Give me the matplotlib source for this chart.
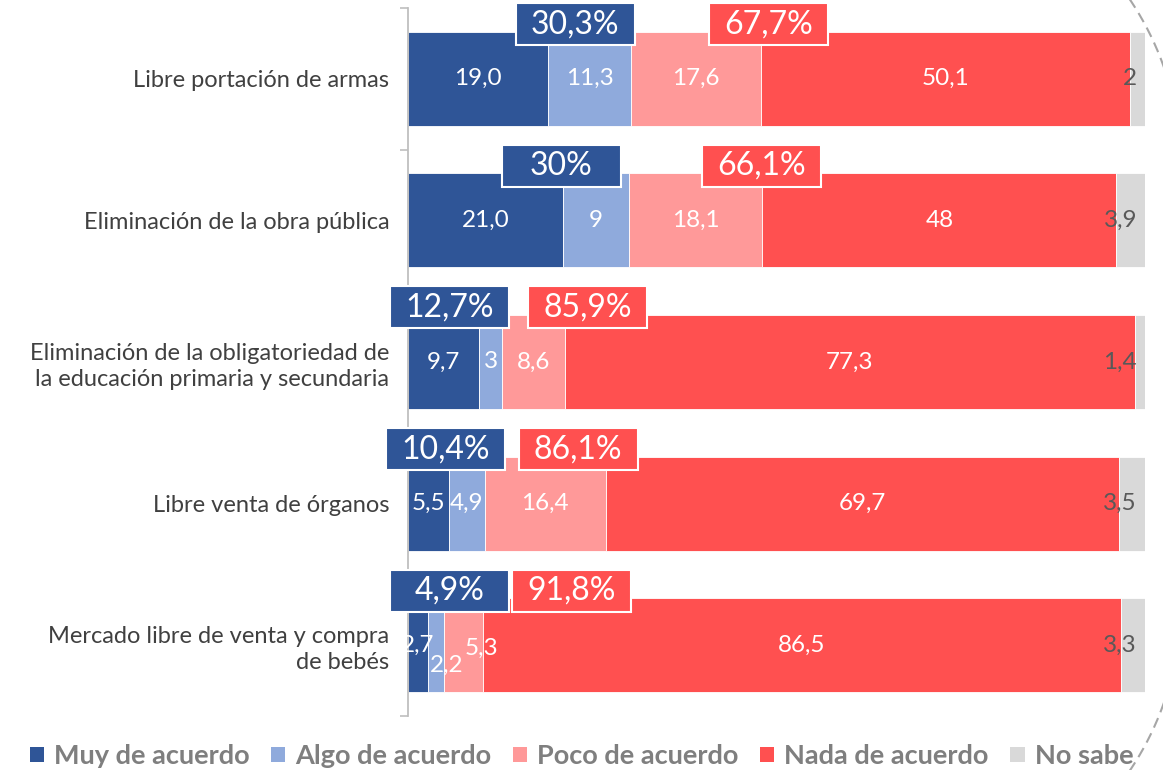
import matplotlib
matplotlib.use("Agg")
import matplotlib.pyplot as plt
from matplotlib.patches import Rectangle, Patch
from matplotlib.lines import Line2D
import numpy as np

plt.rcParams['font.family'] = ['Lato', 'DejaVu Sans']

# ---------------- data ----------------
categories = [
    "Libre portación de armas",
    "Eliminación de la obra pública",
    "Eliminación de la obligatoriedad de\nla educación primaria y secundaria",
    "Libre venta de órganos",
    "Mercado libre de venta y compra\nde bebés",
]
series_names = ["Muy de acuerdo", "Algo de acuerdo", "Poco de acuerdo",
                "Nada de acuerdo", "No sabe"]
muy_de_acuerdo = ["19,0", "21,0", "9,7", "5,5", "2,7"]
algo_de_acuerdo = ["11,3", "9", "3", "4,9", "2,2"]
poco_de_acuerdo = ["17,6", "18,1", "8,6", "16,4", "5,3"]
nada_de_acuerdo = ["50,1", "48", "77,3", "69,7", "86,5"]
no_sabe = ["2", "3,9", "1,4", "3,5", "3,3"]

# ---------------- style / layout ----------------
colors = ["#2F5597", "#8FAADC", "#FF9999", "#FF5050", "#D9D9D9"]
box_agree_x = [22.7, 20.8, 5.6, 5.1, 5.6]      # centre of summary boxes (layout)
box_disagree_x = [48.9, 48.0, 24.4, 23.1, 22.2]
label_offsets_px = {(4, 1): (11, 20), (4, 2): (18, 3)}

def num(s):
    return float(s.replace(",", "."))

def fmt(v):
    s = f"{v:.1f}"
    if s.endswith(".0"):
        s = s[:-2]
    return s.replace(".", ",")

series_str = [muy_de_acuerdo, algo_de_acuerdo, poco_de_acuerdo, nada_de_acuerdo, no_sabe]
series = [np.array([num(s) for s in ser]) for ser in series_str]

W, H = 1163, 770
fig = plt.figure(figsize=(W / 100, H / 100), dpi=100)
ax_left, ax_right, ax_top, ax_bottom = 408, 1145, 8, 716
ax = fig.add_axes([ax_left / W, 1 - ax_bottom / H, (ax_right - ax_left) / W,
                   (ax_bottom - ax_top) / H])
ax.set_xlim(0, 100)
ax.set_ylim(len(categories) - 0.5, -0.5)

px_x = 100 / (ax_right - ax_left)
px_y = len(categories) / (ax_bottom - ax_top)

y = np.arange(len(categories))
bar_h = 0.664
left = np.zeros(len(categories))
for k, (vals, strs, c) in enumerate(zip(series, series_str, colors)):
    ax.barh(y, vals, left=left, height=bar_h, color=c, edgecolor="white",
            linewidth=0.6, zorder=2)
    for i, (v, s) in enumerate(zip(vals, strs)):
        if k < 4:
            dx, dy = label_offsets_px.get((i, k), (0, 0))
            ax.text(left[i] + v / 2 + dx * px_x, y[i] + dy * px_y, s,
                    ha="center", va="center", color="white", fontsize=17.5,
                    zorder=4)
        else:
            ax.text(100 - 8 * px_x, y[i], s, ha="right", va="center",
                    color="#595959", fontsize=17.5, zorder=4)
    left = left + vals

# summary boxes
agree = series[0] + series[1]
disagree = series[2] + series[3]
box_w = 119 * px_x
box_hh = 42 * px_y
for i in range(len(categories)):
    yc = y[i] - 0.385
    for xc, val, c in ((box_agree_x[i], agree[i], colors[0]),
                       (box_disagree_x[i], disagree[i], colors[3])):
        ax.add_patch(Rectangle((xc - box_w / 2, yc - box_hh / 2), box_w, box_hh,
                               facecolor=c, edgecolor="white", linewidth=1.5,
                               zorder=5, clip_on=False))
        ax.text(xc, yc, fmt(val) + "%", ha="center", va="center",
                color="white", fontsize=23, zorder=6, clip_on=False)

# axes styling
for sp in ("top", "right", "bottom"):
    ax.spines[sp].set_visible(False)
ax.spines["left"].set_color("#BFBFBF")
ax.spines["left"].set_linewidth(1.3)
ax.set_xticks([])
ax.set_yticks(np.arange(-0.5, len(categories), 1))
ax.set_yticklabels([])
ax.tick_params(axis="y", which="major", length=6, width=1.2, color="#BFBFBF",
               direction="out")
ax.set_yticks(y, minor=True)
ax.set_yticklabels(categories, minor=True, fontsize=17, color="#404040")
ax.tick_params(axis="y", which="minor", length=0, pad=13.5)
for t in ax.get_yticklabels(minor=True):
    t.set_linespacing(1.28)

# legend
handles = [Patch(facecolor=c, edgecolor="none") for c in colors]
fig.legend(handles, series_names, loc="center", bbox_to_anchor=(0.5, 1 - 756 / H),
           ncol=5, frameon=False, prop={"weight": "bold", "size": 19.5},
           labelcolor="#7F7F7F", handlelength=0.52, handleheight=0.52,
           handletextpad=0.37, columnspacing=0.8, borderpad=0, borderaxespad=0)

# decorative dashed rounded frame (right side), in inches from bottom-left
r = 3.0
cx = 8.81
top_cy, bot_cy = (H - 167) / 100, 167 / 100
a_top = np.linspace(np.pi / 2, 0, 60)
a_bot = np.linspace(0, -np.pi / 2, 60)
fx = np.concatenate([cx + r * np.cos(a_top), cx + r * np.cos(a_bot)])
fy = np.concatenate([top_cy + r * np.sin(a_top), bot_cy + r * np.sin(a_bot)])
fig.add_artist(Line2D(fx, fy, transform=fig.dpi_scale_trans, color="#A6A6A6",
                      linewidth=1.5, linestyle=(0, (5, 3)), clip_on=False))

fig.savefig("out.png", dpi=100)
